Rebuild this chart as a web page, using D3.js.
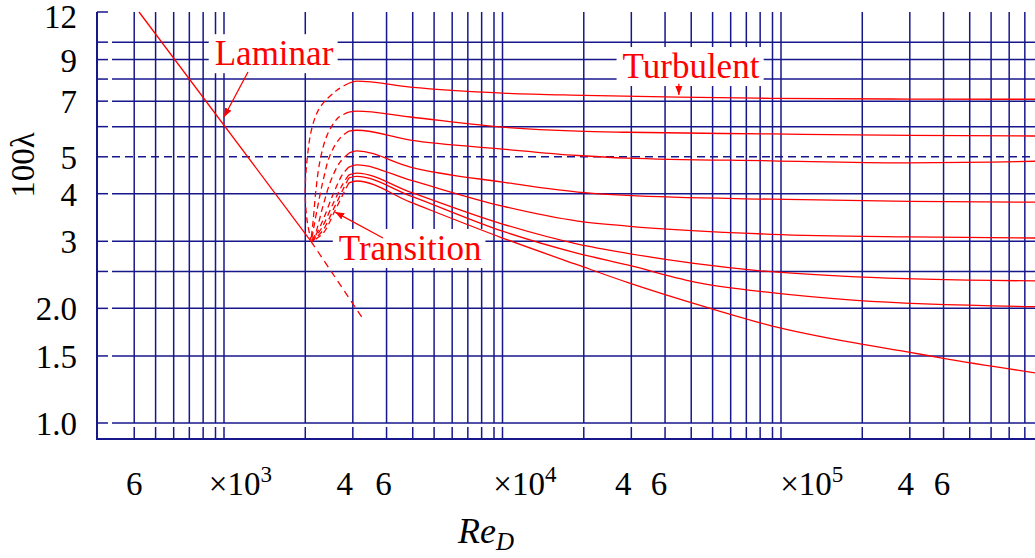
<!DOCTYPE html>
<html>
<head>
<meta charset="utf-8">
<script src="https://cdn.jsdelivr.net/npm/d3@7"></script>
<style>
  body { margin: 0; background: #fff; }
  svg { display: block; }
  text { font-family: "Liberation Serif", "DejaVu Serif", serif; }
</style>
</head>
<body>
<div id="chart"></div>
<script>
// grid: Reynolds-number decades and the mantissa lines drawn in each
const gridDecades = [100, 1000, 10000, 100000];
const gridMantissas = [
  [5, 6, 7, 8, 9, 10],
  [1, 2, 3, 4, 5, 6, 7, 8, 9, 10],
  [1, 2, 3, 4, 5, 6, 7, 8, 9, 10],
  [1, 2, 3, 4, 5, 6, 7, 8, 9]
];
const lambdaGrid = [1, 1.5, 2, 2.5, 3, 4, 6, 7, 8, 9, 10];
const lambdaDashed = [5];
const lambdaTicks = [1, 1.5, 2, 3, 4, 5, 7, 9, 12];
const lambdaTickText = ['1.0', '1.5', '2.0', '3', '4', '5', '7', '9', '12'];

// x labels as printed (Re where each label sits)
const reLabelAt = [500, 1150, 2800, 3900, 12100, 28000, 38000, 130000, 290000, 395000];
const reLabelText = ['6', '×10', '4', '6', '×10', '4', '6', '×10', '4', '6'];
const reLabelExp = ['', '3', '', '', '4', '', '', '5', '', ''];

// laminar line [Re, 100λ]
const laminarSolid = [[521, 12], [2100, 3.0]];
const laminarDashed = [[2100, 3.0], [3250, 1.89]];

// turbulent curves [Re, 100λ]
const turbulent = [
  [[2900, 7.80], [3100, 7.90], [4900, 7.62], [10000, 7.35], [20000, 7.25], [45000, 7.17], [99000, 7.12], [300000, 7.09], [900000, 7.08]],
  [[2900, 6.55], [3100, 6.59], [4900, 6.36], [10000, 5.98], [19000, 5.84], [29000, 5.80], [99000, 5.74], [300000, 5.69], [900000, 5.67]],
  [[2900, 5.84], [3100, 5.87], [4900, 5.53], [10000, 5.24], [19000, 5.04], [29000, 4.96], [99000, 4.88], [290000, 4.82], [600000, 4.84], [900000, 4.87]],
  [[2900, 5.11], [3100, 5.18], [4900, 4.70], [10000, 4.29], [19000, 4.04], [29000, 3.96], [99000, 3.87], [300000, 3.82], [900000, 3.80]],
  [[2900, 4.70], [3100, 4.76], [4900, 4.34], [10000, 3.71], [19000, 3.39], [29000, 3.29], [99000, 3.13], [300000, 3.08], [900000, 3.06]],
  [[2900, 4.48], [3100, 4.53], [4900, 4.04], [10000, 3.33], [19000, 2.95], [29000, 2.79], [90000, 2.51], [190000, 2.42], [900000, 2.36]],
  [[2900, 4.40], [3100, 4.44], [4900, 3.95], [10000, 3.19], [19000, 2.79], [29000, 2.60], [54000, 2.33], [99000, 2.20], [190000, 2.10], [900000, 2.02]],
  [[2900, 4.27], [3100, 4.32], [4900, 3.80], [10000, 3.06], [19000, 2.60], [29000, 2.34], [56000, 2.02], [99000, 1.80], [190000, 1.62], [290000, 1.54], [395000, 1.48], [900000, 1.35]]
];

// transition arcs (dashed) [Re, 100λ]
const transition = [
  [[2900, 7.80], [2620, 7.48], [2270, 6.75], [2120, 5.98], [2030, 4.90], [2000, 4.02], [2030, 3.41], [2100, 3.02]],
  [[2900, 6.55], [2640, 6.32], [2410, 5.70], [2270, 4.90], [2190, 4.09], [2140, 3.41], [2100, 3.02]],
  [[2900, 5.84], [2690, 5.60], [2470, 5.05], [2330, 4.34], [2210, 3.62], [2110, 3.02]],
  [[2900, 5.11], [2690, 4.84], [2490, 4.34], [2330, 3.73], [2170, 3.11], [2100, 3.00]],
  [[2900, 4.70], [2740, 4.48], [2530, 3.97], [2310, 3.37], [2130, 3.00]],
  [[2900, 4.48], [2760, 4.25], [2550, 3.80], [2300, 3.25], [2120, 3.00]],
  [[2900, 4.40], [2780, 4.15], [2570, 3.70], [2320, 3.20], [2120, 3.00]],
  [[2900, 4.27], [2790, 4.05], [2580, 3.62], [2330, 3.15], [2120, 3.00]]
];

// annotations
const noteText = ['Laminar', 'Turbulent', 'Transition'];
const notePos = [[1532, 8.70], [49900, 8.05], [4890, 2.68]];
const arrowFrom = [[1227, 8.35], [45000, 7.78], [3880, 3.06]];
const arrowTo = [[1000, 6.36], [45000, 7.27], [2580, 3.58]];

const width = 1035, height = 558;
const blue = '#17178c', red = '#ff0000';
const serif = 'Liberation Serif';
const plotLeft = 97, plotTop = 12, plotBottom = 423, frameBottom = 439;
const panelWidth = 270, panelGap = 8.5, panelOrigin = 224;

// each decade is its own log panel, separated by a small gap
const panels = new Map();
gridDecades.forEach((d, i) => {
  const start = panelOrigin + (i - 1) * (panelWidth + panelGap);
  panels.set(d, d3.scaleLog().domain([d, d * 10]).range([start, start + panelWidth]));
});
const xPos = re => {
  const dec = Math.pow(10, Math.floor(Math.log10(re) + 1e-9));
  return panels.get(dec)(re);
};
const y = d3.scaleLog().domain([1, 12]).range([plotBottom, plotTop]);

const svg = d3.select('#chart').append('svg')
  .attr('width', width).attr('height', height);

svg.append('defs').append('marker')
  .attr('id', 'head')
  .attr('viewBox', '0 0 10 10')
  .attr('refX', 10).attr('refY', 5)
  .attr('markerWidth', 9).attr('markerHeight', 9)
  .attr('markerUnits', 'userSpaceOnUse')
  .attr('orient', 'auto')
  .append('path')
  .attr('d', 'M0,1 L10,5 L0,9 Z')
  .attr('fill', red);

const grid = svg.append('g').attr('stroke', blue).attr('stroke-width', 1.5);

// vertical lines + bottom ticks
const xLines = [];
gridDecades.forEach((d, i) => {
  gridMantissas[i].forEach(m => xLines.push(panels.get(d)(d * m)));
});
grid.selectAll('.vx').data(xLines).enter().append('line')
  .attr('x1', d => d).attr('x2', d => d)
  .attr('y1', plotTop).attr('y2', plotBottom);
grid.selectAll('.tx').data(xLines).enter().append('line')
  .attr('x1', d => d).attr('x2', d => d)
  .attr('y1', plotBottom + 4).attr('y2', frameBottom);

// horizontal lines + left ticks
grid.selectAll('.hy').data(lambdaGrid).enter().append('line')
  .attr('x1', plotLeft + 15).attr('x2', width + 5)
  .attr('y1', d => y(d)).attr('y2', d => y(d));
grid.selectAll('.hd').data(lambdaDashed).enter().append('line')
  .attr('x1', plotLeft + 15).attr('x2', width + 5)
  .attr('y1', d => y(d)).attr('y2', d => y(d))
  .attr('stroke-dasharray', '8,5');
grid.selectAll('.ty').data(lambdaGrid.concat(lambdaDashed, [12])).enter().append('line')
  .attr('x1', plotLeft).attr('x2', plotLeft + 11)
  .attr('y1', d => y(d)).attr('y2', d => y(d));

// frame
grid.append('line').attr('x1', plotLeft).attr('x2', plotLeft)
  .attr('y1', plotTop).attr('y2', frameBottom + 1).attr('stroke-width', 2);
grid.append('line').attr('x1', plotLeft).attr('x2', width + 5)
  .attr('y1', frameBottom).attr('y2', frameBottom).attr('stroke-width', 2);

// y tick labels
svg.append('g').selectAll('text').data(lambdaTicks).enter().append('text')
  .attr('x', 77).attr('y', d => Math.max(y(d) + 12, 28))
  .attr('text-anchor', 'end')
  .attr('font-family', serif)
  .attr('font-size', 33)
  .text((d, i) => lambdaTickText[i]);

// x tick labels
const xl = svg.append('g').selectAll('text').data(reLabelAt).enter().append('text')
  .attr('x', d => xPos(d)).attr('y', 495)
  .attr('text-anchor', 'middle')
  .attr('font-family', serif)
  .attr('font-size', 33);
xl.append('tspan').text((d, i) => reLabelText[i]);
xl.append('tspan').attr('font-size', 23).attr('dy', -13)
  .text((d, i) => reLabelExp[i]);

// axis titles
const xt = svg.append('text')
  .attr('x', 486).attr('y', 543)
  .attr('text-anchor', 'middle')
  .attr('font-family', serif)
  .attr('font-size', 36).attr('font-style', 'italic');
xt.append('tspan').text('Re');
xt.append('tspan').attr('font-size', 25).attr('dy', 7).text('D');
svg.append('text')
  .attr('transform', 'translate(34,165) rotate(-90)')
  .attr('text-anchor', 'middle')
  .attr('font-family', serif)
  .attr('font-size', 33)
  .text('100λ');

// annotation labels on white boxes
const notes = svg.append('g');
noteText.forEach((t, i) => {
  const g = notes.append('g');
  const txt = g.append('text')
    .attr('x', xPos(notePos[i][0])).attr('y', y(notePos[i][1]))
    .attr('text-anchor', 'middle')
    .attr('font-family', serif)
    .attr('font-size', 35)
    .attr('fill', red)
    .text(t);
  const b = txt.node().getBBox();
  g.insert('rect', 'text')
    .attr('x', b.x - 6).attr('y', b.y)
    .attr('width', b.width + 10).attr('height', b.height)
    .attr('fill', '#fff');
});

// curves
const line = d3.line().x(d => xPos(d[0])).y(d => y(d[1]));
const curves = svg.append('g').attr('fill', 'none').attr('stroke', red).attr('stroke-width', 1.3);
curves.selectAll('.turb').data(turbulent).enter().append('path')
  .attr('d', line.curve(d3.curveMonotoneX));
curves.selectAll('.trans').data(transition).enter().append('path')
  .attr('d', d3.line().x(d => xPos(d[0])).y(d => y(d[1])).curve(d3.curveCatmullRom.alpha(0.5)))
  .attr('stroke-dasharray', '6,4');
curves.append('path').attr('d', d3.line().x(d => xPos(d[0])).y(d => y(d[1]))(laminarSolid));
curves.append('path').attr('d', d3.line().x(d => xPos(d[0])).y(d => y(d[1]))(laminarDashed))
  .attr('stroke-dasharray', '7,5');

// arrows
svg.append('g').selectAll('line').data(arrowFrom).enter().append('line')
  .attr('x1', d => xPos(d[0])).attr('y1', d => y(d[1]))
  .attr('x2', (d, i) => xPos(arrowTo[i][0])).attr('y2', (d, i) => y(arrowTo[i][1]))
  .attr('stroke', red).attr('stroke-width', 1.3)
  .attr('marker-end', 'url(#head)');
</script>
</body>
</html>
